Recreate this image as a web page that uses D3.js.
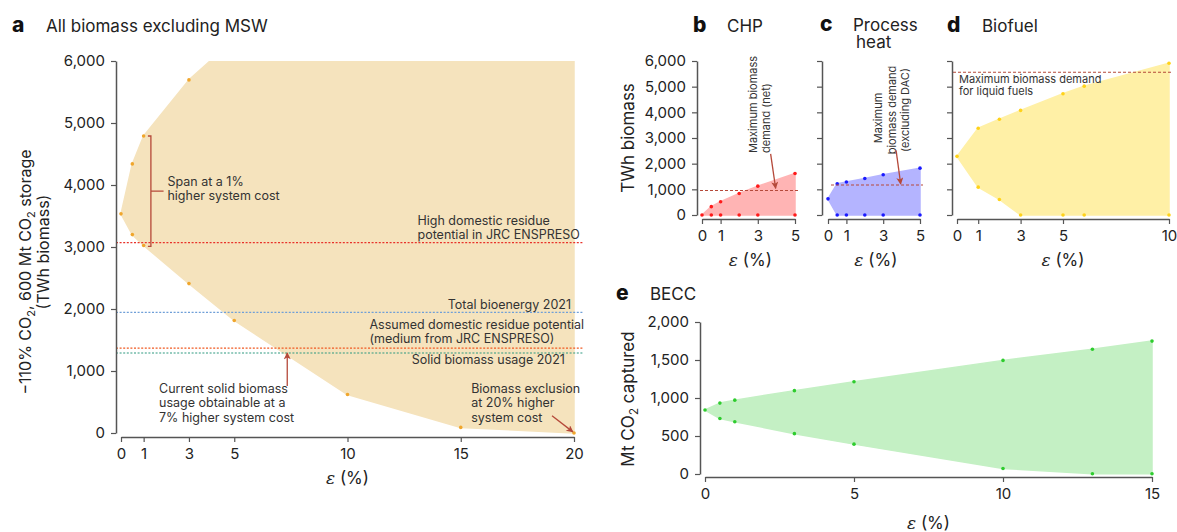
<!DOCTYPE html>
<html>
<head>
<meta charset="utf-8">
<script src="https://cdn.jsdelivr.net/npm/d3@7"></script>
<style>
  body { margin: 0; background: #fff; }
  svg { font-family: Inter, "Noto Sans", sans-serif; }
  .axis .domain { stroke: #555; stroke-width: 1.5; }
  .axis line { stroke: #555; stroke-width: 1.2; }
  .axis text { fill: #222; font-size: 15px; font-family: Inter, "Noto Sans", sans-serif; }
</style>
</head>
<body>
<div id="chart"></div>
<script>
// panel a: all biomass excluding MSW
var epsA = [0, 0.5, 1, 3, 5, 10, 15, 20];
var upperA = [3535, 4340, 4790, 5695, 6350, 7500, 8500, 9500];
var lowerA = [3535, 3200, 3025, 2410, 1815, 620, 90, 0];
var ticksA = [0, 1, 3, 5, 10, 15, 20];
var refNamesA = ["High domestic residue", "Total bioenergy 2021", "Assumed domestic residue potential", "Solid biomass usage 2021"];
var refValuesA = [3070, 1945, 1370, 1290];
var refColorsA = ["#e8322a", "#6f9fd8", "#f05a22", "#2f9a80"];

// panel b: CHP
var epsB = [0, 0.5, 1, 2, 3, 5];
var upperB = [0, 325, 515, 840, 1125, 1615];
var lowerB = [0, 0, 0, 0, 0, 0];
var demandB = 955;

// panel c: process heat
var epsC = [0, 0.5, 1, 2, 3, 5];
var upperC = [630, 1220, 1285, 1425, 1570, 1825];
var lowerC = [630, 0, 0, 0, 0, 0];
var demandC = 1170;

// panel d: biofuel
var epsD = [0, 1, 2, 3, 5, 6, 10];
var upperD = [2285, 3380, 3730, 4075, 4725, 5020, 5910];
var lowerD = [2285, 1085, 605, 0, 0, 0, 0];
var demandD = 5560;
var ticksBC = [0, 1, 3, 5];
var ticksD = [0, 1, 3, 5, 10];
var ticksTWh = [0, 1000, 2000, 3000, 4000, 5000, 6000];

// panel e: BECC
var epsE = [0, 0.5, 1, 3, 5, 10, 13, 15];
var upperE = [842, 933, 972, 1097, 1214, 1495, 1641, 1749];
var lowerE = [842, 730, 687, 531, 393, 73, 4, 4];
var ticksEx = [0, 5, 10, 15];
var ticksEy = [0, 500, 1000, 1500, 2000];

var width = 1177, height = 532;
var annColor = "#b5493a";
var textColor = "#333";

var svg = d3.select("#chart").append("svg")
    .attr("width", width)
    .attr("height", height);

var defs = svg.append("defs");
defs.append("marker")
    .attr("id", "arrow")
    .attr("viewBox", "0 0 10 10")
    .attr("refX", 9).attr("refY", 5)
    .attr("markerUnits", "userSpaceOnUse")
    .attr("markerWidth", 8).attr("markerHeight", 7)
    .attr("orient", "auto")
  .append("path")
    .attr("d", "M0,0 L10,5 L0,10 L2.5,5 z")
    .attr("fill", annColor);

// scales
var xA = d3.scaleLinear().domain([0, 20]).range([121, 574]);
var yA = d3.scaleLinear().domain([0, 6000]).range([433, 61]);
var xB = d3.scaleLinear().domain([0, 5]).range([702, 795]);
var xC = d3.scaleLinear().domain([0, 5]).range([828, 920]);
var xD = d3.scaleLinear().domain([0, 10]).range([957, 1169]);
var yT = d3.scaleLinear().domain([0, 6000]).range([215, 61]);
var xE = d3.scaleLinear().domain([0, 15]).range([705, 1152]);
var yE = d3.scaleLinear().domain([0, 2000]).range([474, 322]);

defs.append("clipPath").attr("id", "clipA")
  .append("rect")
    .attr("x", xA(0) - 6).attr("y", yA(6000))
    .attr("width", xA(20) - xA(0) + 16).attr("height", yA(0) - yA(6000) + 4);

function drawBand(x, y, eps, upper, lower, fill, dot, clipId) {
  var area = d3.area()
    .x(function(d, i) { return x(eps[i]); })
    .y0(function(d, i) { return y(lower[i]); })
    .y1(function(d, i) { return y(upper[i]); });
  var layer = svg.append("g");
  if (clipId) layer.attr("clip-path", "url(#" + clipId + ")");
  layer.append("path")
    .datum(eps)
    .attr("d", area)
    .attr("fill", fill)
    .attr("stroke", fill)
    .attr("stroke-width", 1.5)
    .attr("stroke-linejoin", "round");
  var pts = [];
  eps.forEach(function(e, i) {
    pts.push([e, upper[i]]);
    if (lower[i] !== upper[i]) pts.push([e, lower[i]]);
  });
  layer.selectAll("circle")
    .data(pts)
    .enter()
    .append("circle")
    .attr("cx", function(d) { return x(d[0]); })
    .attr("cy", function(d) { return y(d[1]); })
    .attr("r", 1.8)
    .attr("fill", dot);
}

function yAxis(y, xpos, ticks, withLabels) {
  var ax = d3.axisLeft(y).tickValues(ticks).tickSize(5).tickSizeOuter(0).tickPadding(6)
    .tickFormat(withLabels ? d3.format(",") : function() { return ""; });
  svg.append("g").attr("class", "axis").attr("transform", "translate(" + xpos + ",0)").call(ax);
}

function xAxis(x, ypos, ticks) {
  var ax = d3.axisBottom(x).tickValues(ticks).tickSize(5).tickSizeOuter(0).tickPadding(6)
    .tickFormat(d3.format("d"));
  svg.append("g").attr("class", "axis").attr("transform", "translate(0," + ypos + ")").call(ax);
}

function epsTitle(cx, baseline) {
  var t = svg.append("text")
    .attr("x", cx).attr("y", baseline)
    .attr("text-anchor", "middle")
    .attr("font-size", 17)
    .attr("fill", "#222");
  t.append("tspan").attr("font-style", "italic").attr("font-family", "'DejaVu Serif', serif").text("ε");
  t.append("tspan").text(" (%)");
}

function panelTitle(letter, lx, tx, baseline, title) {
  svg.append("text").attr("x", lx).attr("y", baseline)
    .attr("font-size", 21).attr("font-weight", 800).attr("fill", "#111").text(letter);
  svg.append("text").attr("x", tx).attr("y", baseline)
    .attr("font-size", 17).attr("fill", "#222").text(title);
}

function lines(x, y, rows, size, anchor, gap) {
  var t = svg.append("text")
    .attr("font-size", size)
    .attr("fill", textColor)
    .attr("text-anchor", anchor || "start");
  rows.forEach(function(r, i) {
    t.append("tspan").attr("x", x).attr("y", y + i * gap).text(r);
  });
  return t;
}

function rotated(x, y, txt, size, anchor) {
  return svg.append("text")
    .attr("transform", "translate(" + x + "," + y + ") rotate(-90)")
    .attr("text-anchor", anchor || "start")
    .attr("font-size", size)
    .attr("fill", textColor)
    .text(txt);
}

function arrow(x1, y1, x2, y2) {
  svg.append("line")
    .attr("x1", x1).attr("y1", y1).attr("x2", x2).attr("y2", y2)
    .attr("stroke", annColor).attr("stroke-width", 1.3)
    .attr("marker-end", "url(#arrow)");
}

// ---------- panel a ----------
drawBand(xA, yA, epsA, upperA, lowerA, "#f5e3bd", "#f0a62c", "clipA");

refValuesA.forEach(function(v, i) {
  svg.append("line")
    .attr("x1", 116).attr("x2", xA(20) + 10)
    .attr("y1", yA(v)).attr("y2", yA(v))
    .attr("stroke", refColorsA[i])
    .attr("stroke-width", 1.2)
    .attr("stroke-dasharray", "2,1.6");
});

yAxis(yA, 116, ticksTWh, true);
xAxis(xA, 437, ticksA);
epsTitle(xA(10), 484);
panelTitle("a", 12, 46, 32, "All biomass excluding MSW");

var ylab = svg.append("text")
    .attr("transform", "translate(31,272) rotate(-90)")
    .attr("text-anchor", "middle")
    .attr("font-size", 16)
    .attr("fill", "#222");
ylab.append("tspan").text("\u2212110% CO");
ylab.append("tspan").attr("font-size", 11).attr("dy", 4).text("2");
ylab.append("tspan").attr("dy", -4).text(", 600 Mt CO");
ylab.append("tspan").attr("font-size", 11).attr("dy", 4).text("2");
ylab.append("tspan").attr("dy", -4).text(" storage");
svg.append("text")
    .attr("transform", "translate(49,252) rotate(-90)")
    .attr("text-anchor", "middle")
    .attr("font-size", 16)
    .attr("fill", "#222")
    .text("(TWh biomass)");

// bracket for the 1% span
var bx = xA(1.32);
svg.append("path")
    .attr("d", "M" + (bx - 3) + "," + yA(4790) + "H" + bx + "V" + yA(3010) + "H" + (bx - 3) +
               "M" + bx + "," + yA(3900) + "H" + xA(1.88))
    .attr("fill", "none").attr("stroke", annColor).attr("stroke-width", 1.3);
lines(xA(2.05), yA(4055) + 4, ["Span at a 1%", "higher system cost"], 12.5, "start", 14);

lines(xA(13.09), yA(3412) + 4, [refNamesA[0], "potential in JRC ENSPRESO"], 12.5, "start", 14);
lines(xA(19.87), yA(2059) + 4, [refNamesA[1]], 12.5, "end", 14);
lines(xA(10.97), yA(1737) + 4, [refNamesA[2], "(medium from JRC ENSPRESO)"], 12.5, "start", 14);
lines(xA(19.6), yA(1172) + 4, [refNamesA[3]], 12.5, "end", 14);

lines(xA(1.68), yA(715) + 4, ["Current solid biomass", "usage obtainable at a", "7% higher system cost"], 12.5, "start", 14.5);
arrow(xA(7.34), yA(760), xA(7.34), yA(1290));
lines(xA(15.46), yA(715) + 4, ["Biomass exclusion", "at 20% higher", "system cost"], 12.5, "start", 14.5);
arrow(xA(19.03), yA(280), xA(19.95), yA(18));

// ---------- panel b ----------
drawBand(xB, yT, epsB, upperB, lowerB, "#ffb4b4", "#ff1a1a");
svg.append("line")
    .attr("x1", xB(0) - 2).attr("x2", xB(5) + 3)
    .attr("y1", yT(demandB)).attr("y2", yT(demandB))
    .attr("stroke", annColor).attr("stroke-width", 1.1).attr("stroke-dasharray", "3,2");
yAxis(yT, 697, ticksTWh, true);
xAxis(xB, 219, ticksBC);
epsTitle(xB(2.6), 266);
panelTitle("b", 693, 727, 32, "CHP");
svg.append("text")
    .attr("transform", "translate(634,138) rotate(-90)")
    .attr("text-anchor", "middle")
    .attr("font-size", 17).attr("fill", "#222")
    .text("TWh biomass");
rotated(757, 153, "Maximum biomass", 11);
rotated(770, 153, "demand (net)", 11);
arrow(xB(3.69), yT(2380), xB(3.96), yT(1040));

// ---------- panel c ----------
drawBand(xC, yT, epsC, upperC, lowerC, "#b4b4ff", "#1a1aff");
svg.append("line")
    .attr("x1", xC(0) + 3).attr("x2", xC(5) + 3)
    .attr("y1", yT(demandC)).attr("y2", yT(demandC))
    .attr("stroke", annColor).attr("stroke-width", 1.1).attr("stroke-dasharray", "3,2");
yAxis(yT, 822, ticksTWh, false);
xAxis(xC, 219, ticksBC);
epsTitle(xC(2.6), 266);
panelTitle("c", 820, 853, 31, "Process");
svg.append("text").attr("x", 856).attr("y", 48).attr("font-size", 17).attr("fill", "#222").text("heat");
rotated(882, 118, "Maximum", 11, "middle");
rotated(896, 110, "biomass demand", 11, "middle");
rotated(909, 110, "(excluding DAC)", 11, "middle");
arrow(xC(3.7), yT(2520), xC(3.95), yT(1210));

// ---------- panel d ----------
drawBand(xD, yT, epsD, upperD, lowerD, "#fff0a6", "#ffd21a");
svg.append("line")
    .attr("x1", 953).attr("x2", xD(10) + 4)
    .attr("y1", yT(demandD)).attr("y2", yT(demandD))
    .attr("stroke", annColor).attr("stroke-width", 1.1).attr("stroke-dasharray", "3,2");
yAxis(yT, 952, ticksTWh, false);
xAxis(xD, 219, ticksD);
epsTitle(xD(5), 266);
panelTitle("d", 947, 982, 32, "Biofuel");
lines(959, 83, ["Maximum biomass demand", "for liquid fuels"], 11, "start", 11.8);

// ---------- panel e ----------
drawBand(xE, yE, epsE, upperE, lowerE, "#c4f0c4", "#2ecc2e");
yAxis(yE, 700, ticksEy, true);
xAxis(xE, 477, ticksEx);
epsTitle(xE(7.5), 529);
panelTitle("e", 616, 650, 300, "BECC");
var el = svg.append("text")
    .attr("transform", "translate(634,399) rotate(-90)")
    .attr("text-anchor", "middle")
    .attr("font-size", 17).attr("fill", "#222");
el.append("tspan").text("Mt CO");
el.append("tspan").attr("font-size", 12).attr("dy", 4).text("2");
el.append("tspan").attr("dy", -4).text(" captured");
</script>
</body>
</html>
